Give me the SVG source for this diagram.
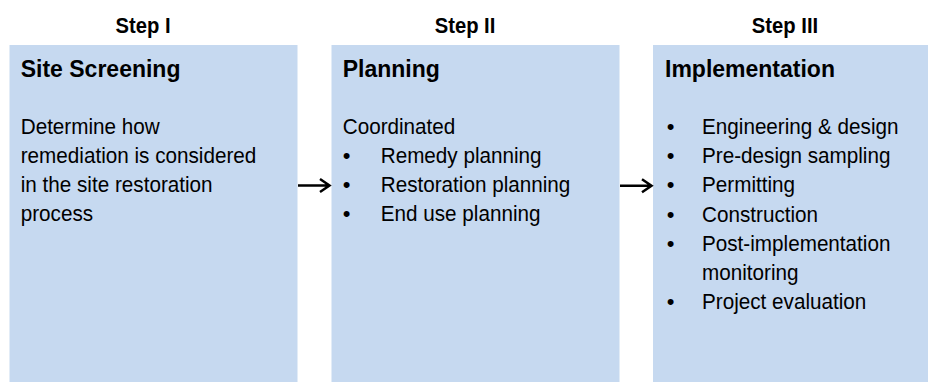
<svg xmlns="http://www.w3.org/2000/svg" width="928" height="382" viewBox="0 0 928 382">
<style>
.box{fill:#C6D9F0;}
.step{font-family:"Liberation Sans",Arial,sans-serif;font-weight:bold;font-size:22px;fill:#000;text-anchor:middle;}
.title{font-family:"Liberation Sans",Arial,sans-serif;font-weight:bold;font-size:23px;fill:#000;}
.body{font-family:"Liberation Sans",Arial,sans-serif;font-size:22px;fill:#000;}
.bul{font-family:"Liberation Sans",Arial,sans-serif;font-size:22px;fill:#000;text-anchor:middle;}
.arr{fill:none;stroke:#000;stroke-width:2.5;}
</style>
<rect width="928" height="382" fill="#fff"/>
<g id="step1">
<g transform="translate(143 0) scale(0.92 1)"><text class="step" x="0" y="33">Step I</text></g>
<rect class="box" x="9.5" y="45" width="288" height="337"/>
<text class="title" x="20.7" y="77">Site Screening</text>
<g transform="translate(20.7 0) scale(0.94 1)">
<text class="body" x="0" y="134">Determine how</text>
<text class="body" x="0" y="163">remediation is considered</text>
<text class="body" x="0" y="192">in the site restoration</text>
<text class="body" x="0" y="221">process</text>
</g>
</g>
<g id="step2">
<g transform="translate(465 0) scale(0.92 1)"><text class="step" x="0" y="33">Step II</text></g>
<rect class="box" x="331.5" y="45" width="288" height="337"/>
<text class="title" x="342.7" y="77">Planning</text>
<g transform="translate(342.7 0) scale(0.94 1)">
<text class="body" x="0" y="134">Coordinated</text>
</g>
<text class="bul" x="346.7" y="163">•</text>
<text class="bul" x="346.7" y="192">•</text>
<text class="bul" x="346.7" y="221">•</text>
<g transform="translate(380.7 0) scale(0.94 1)">
<text class="body" x="0" y="163">Remedy planning</text>
<text class="body" x="0" y="192">Restoration planning</text>
<text class="body" x="0" y="221">End use planning</text>
</g>
</g>
<g id="step3">
<g transform="translate(785 0) scale(0.92 1)"><text class="step" x="0" y="33">Step III</text></g>
<rect class="box" x="653" y="45" width="288" height="337"/>
<text class="title" x="665" y="77">Implementation</text>
<text class="bul" x="670.7" y="134">•</text>
<text class="bul" x="670.7" y="163.2">•</text>
<text class="bul" x="670.7" y="192.4">•</text>
<text class="bul" x="670.7" y="221.6">•</text>
<text class="bul" x="670.7" y="250.8">•</text>
<text class="bul" x="670.7" y="309.2">•</text>
<g transform="translate(702 0) scale(0.94 1)">
<text class="body" x="0" y="134">Engineering &amp; design</text>
<text class="body" x="0" y="163.2">Pre-design sampling</text>
<text class="body" x="0" y="192.4">Permitting</text>
<text class="body" x="0" y="221.6">Construction</text>
<text class="body" x="0" y="250.8">Post-implementation</text>
<text class="body" x="0" y="280">monitoring</text>
<text class="body" x="0" y="309.2">Project evaluation</text>
</g>
</g>
<g id="connectors">
<path class="arr" d="M298 185.5 H329.5 M320 179 L329.5 185.5 L320 192"/>
<path class="arr" d="M620 185.7 H651.5 M642 179.2 L651.5 185.7 L642 192.2"/>
</g>
</svg>
